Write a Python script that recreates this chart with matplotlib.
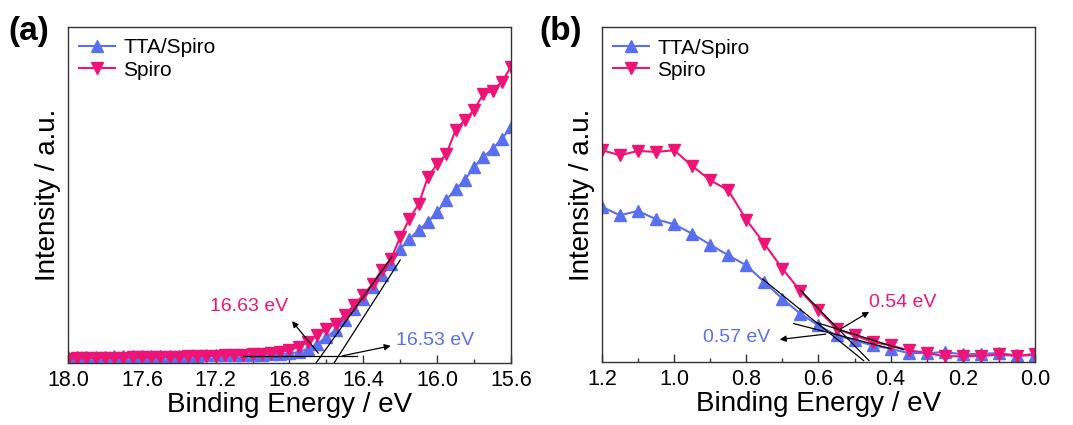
import matplotlib
matplotlib.use("Agg")
import matplotlib.pyplot as plt
from matplotlib.ticker import MultipleLocator

plt.rcParams['font.family'] = ['Liberation Sans', 'DejaVu Sans']

# ---- panel (a): high binding-energy cutoff ----
ea = [18.00, 17.95, 17.90, 17.85, 17.80, 17.75, 17.70, 17.65, 17.60, 17.55,
      17.50, 17.45, 17.40, 17.35, 17.30, 17.25, 17.20, 17.15, 17.10, 17.05,
      17.00, 16.95, 16.90, 16.85, 16.80, 16.75, 16.70, 16.65, 16.60, 16.55,
      16.50, 16.45, 16.40, 16.35, 16.30, 16.25, 16.20, 16.15, 16.10, 16.05,
      16.00, 15.95, 15.90, 15.85, 15.80, 15.75, 15.70, 15.65, 15.60]
spiro_a = [4.3, 4.5, 4.6, 4.8, 5.0, 5.1, 5.3, 5.5, 5.6, 5.8,
           6.0, 6.2, 6.4, 6.6, 6.8, 7.0, 7.2, 7.5, 7.8, 8.1,
           8.5, 9.0, 9.8, 11, 13, 16, 21, 28, 34, 39,
           48, 58, 68, 79, 93, 104, 126, 144, 159, 186,
           199, 209, 233, 243, 253, 269, 272, 281, 296]
tta_a = [6.0, 6.1, 6.2, 6.3, 6.4, 6.5, 6.6, 6.7, 6.8, 6.9,
         7.0, 7.1, 7.2, 7.3, 7.4, 7.5, 7.6, 7.7, 7.8, 8.0,
         8.2, 8.4, 8.7, 9.0, 9.5, 11, 14, 19, 26, 33,
         43, 54, 64, 76, 88, 99, 114, 124, 133, 141,
         151, 163, 174, 183, 196, 206, 214, 224, 236]

# fitting lines (x pairs, y pairs)
tan_a = [([16.66, 16.246], [-1, 106]),
         ([16.562, 16.20], [-1, 103]),
         ([17.05, 16.435], [6.7, 6.7])]

# ---- panel (b): valence band edge ----
eb = [1.20, 1.15, 1.10, 1.05, 1.00, 0.95, 0.90, 0.85, 0.80, 0.75, 0.70, 0.65, 0.60,
      0.55, 0.50, 0.45, 0.40, 0.35, 0.30, 0.25, 0.20, 0.15, 0.10, 0.05, 0.00]
spiro_b = [211.7, 206.7, 211, 210, 211.7, 196, 181.7, 171.7, 142.3, 118.3, 93.3, 71, 51.7,
           33.3, 26.7, 20, 16.7, 11.7, 9.3, 5.7, 6, 6, 7.7, 6, 8.3]
tta_b = [155, 146.7, 151, 142.7, 137.7, 128.3, 117.3, 106.7, 96.7, 80, 63.3, 48.3, 36.7,
         26.7, 21.7, 16.7, 13.3, 9, 9, 10, 7.7, 8.3, 9, 6.7, 6.7]

tan_b = [([0.755, 0.475], [83, 1.5]),
         ([0.65, 0.46], [72, 1.5]),
         ([0.669, 0.40], [38.5, 13.5]),
         ([0.605, 0.365], [39.5, 12.5])]

blue = '#5a6ff0'
pink = '#ee1476'


def style_axis(ax, xmin, xmax, major, minor, ytop):
    ax.set_xlim(xmin, xmax)
    ax.set_ylim(0, ytop)
    ax.xaxis.set_major_locator(MultipleLocator(major))
    ax.xaxis.set_minor_locator(MultipleLocator(minor))
    ax.tick_params(axis='x', which='major', direction='in', length=6, width=1,
                   labelsize=15.5, pad=5, colors='#333333', labelcolor='black')
    ax.tick_params(axis='x', which='minor', direction='in', length=3, width=1,
                   colors='#333333')
    ax.set_yticks([])
    for s in ax.spines.values():
        s.set_color('#333333')
        s.set_linewidth(1.0)
    ax.set_xlabel('Binding Energy / eV', fontsize=20, labelpad=1)
    ax.set_ylabel('Intensity / a.u.', fontsize=20, labelpad=5)


fig = plt.figure(figsize=(10.73, 4.25), dpi=100)
axa = fig.add_axes([0.0634, 0.1459, 0.4128, 0.7906])
axb = fig.add_axes([0.561, 0.148, 0.4036, 0.7882])

axa.plot(ea, tta_a, color=blue, marker='^', ms=8, lw=1.5, label='TTA/Spiro')
axa.plot(ea, spiro_a, color=pink, marker='v', ms=8, lw=1.5, label='Spiro')
for xs, ys in tan_a:
    axa.plot(xs, ys, color='black', lw=0.9)
style_axis(axa, 18.0, 15.6, 0.4, 0.2, 336)
axa.set_xticks([18.0, 17.6, 17.2, 16.8, 16.4, 16.0, 15.6])
axa.annotate('', xy=(16.796, 44), xytext=(16.634, 7.7),
             arrowprops=dict(arrowstyle='-|>', color='black', lw=0.9, mutation_scale=9))
axa.annotate('', xy=(16.237, 17.7), xytext=(16.526, 6.7),
             arrowprops=dict(arrowstyle='-|>', color='black', lw=0.9, mutation_scale=9))
axa.text(17.017, 56, '16.63 eV', color=pink, fontsize=14, ha='center', va='center')
axa.text(16.225, 22.7, '16.53 eV', color=blue, fontsize=14, ha='left', va='center')
axa.legend(loc='upper left', bbox_to_anchor=(0.0, 1.0), frameon=False, fontsize=15,
           handlelength=1.7, handletextpad=0.4, labelspacing=0.15, borderaxespad=0.15)

axb.plot(eb, tta_b, color=blue, marker='^', ms=8.5, lw=1.5, label='TTA/Spiro')
axb.plot(eb, spiro_b, color=pink, marker='v', ms=8.5, lw=1.5, label='Spiro')
for xs, ys in tan_b:
    axb.plot(xs, ys, color='black', lw=0.9)
style_axis(axb, 1.2, 0.0, 0.2, 0.1, 334.7)
axb.annotate('', xy=(0.453, 51.7), xytext=(0.545, 31.7),
             arrowprops=dict(arrowstyle='-|>', color='black', lw=0.9, mutation_scale=9))
axb.annotate('', xy=(0.715, 22.3), xytext=(0.572, 28.3),
             arrowprops=dict(arrowstyle='-|>', color='black', lw=0.9, mutation_scale=9))
axb.text(0.459, 60, '0.54 eV', color=pink, fontsize=14, ha='left', va='center')
axb.text(0.734, 25, '0.57 eV', color=blue, fontsize=14, ha='right', va='center')
axb.legend(loc='upper left', bbox_to_anchor=(0.0, 1.0), frameon=False, fontsize=15,
           handlelength=1.7, handletextpad=0.4, labelspacing=0.15, borderaxespad=0.15)

fig.text(0.008, 0.925, '(a)', fontsize=24, fontweight='bold', va='center')
fig.text(0.503, 0.925, '(b)', fontsize=24, fontweight='bold', va='center')

fig.savefig('out.png', dpi=100)
